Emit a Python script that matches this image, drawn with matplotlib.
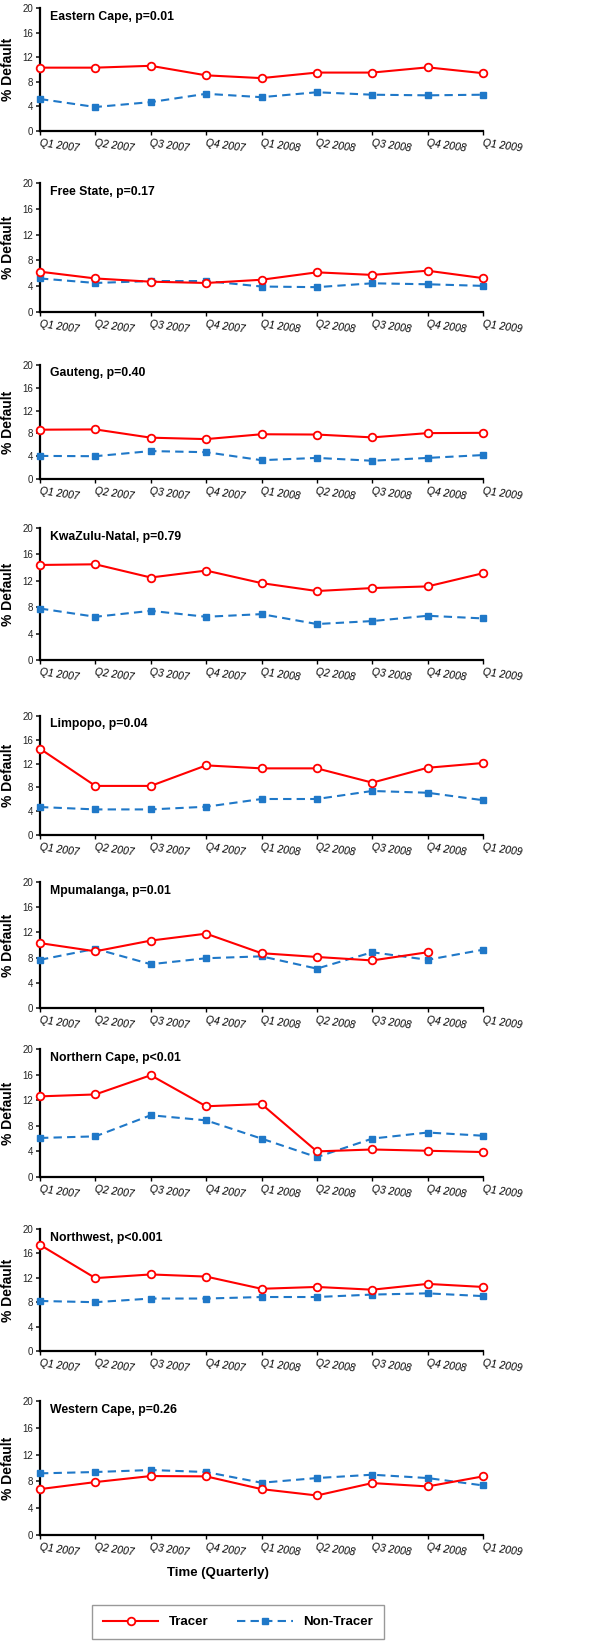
#!/usr/bin/env python3
"""
Quarterly default rates, tracer vs. non-tracer patients, by province.
"""
import numpy as np
import matplotlib
matplotlib.use("Agg")
import matplotlib.pyplot as plt
from matplotlib.lines import Line2D

plt.rcParams["font.family"] = ["Liberation Sans", "DejaVu Sans"]

QUARTERS = ["Q1 2007", "Q2 2007", "Q3 2007", "Q4 2007", "Q1 2008",
            "Q2 2008", "Q3 2008", "Q4 2008", "Q1 2009"]
TITLES = ["Eastern Cape, p=0.01", "Free State, p=0.17", "Gauteng, p=0.40",
          "KwaZulu-Natal, p=0.79", "Limpopo, p=0.04", "Mpumalanga, p=0.01",
          "Northern Cape, p<0.01", "Northwest, p<0.001", "Western Cape, p=0.26"]

# % default per quarter
EC_TRACER  = [10.3, 10.3, 10.6, 9.05, 8.6, 9.5, 9.5, 10.35, 9.4]
EC_NON     = [5.2, 3.9, 4.7, 6.05, 5.5, 6.3, 5.9, 5.8, 5.9]
FS_TRACER  = [6.25, 5.2, 4.7, 4.5, 5.0, 6.15, 5.75, 6.4, 5.25]
FS_NON     = [5.2, 4.5, 4.8, 4.8, 3.95, 3.85, 4.45, 4.3, 4.05]
GP_TRACER  = [8.65, 8.7, 7.25, 7.0, 7.85, 7.8, 7.3, 8.05, 8.1]
GP_NON     = [4.05, 4.0, 4.9, 4.7, 3.3, 3.7, 3.2, 3.7, 4.2]
KZN_TRACER = [14.4, 14.5, 12.5, 13.55, 11.65, 10.45, 10.9, 11.15, 13.15]
KZN_NON    = [7.8, 6.55, 7.45, 6.55, 6.95, 5.45, 5.9, 6.7, 6.3]
LP_TRACER  = [14.5, 8.25, 8.25, 11.7, 11.2, 11.2, 8.8, 11.3, 12.1]
LP_NON     = [4.7, 4.3, 4.3, 4.75, 6.05, 6.05, 7.4, 7.1, 5.85]
MP_TRACER  = [10.3, 9.0, 10.7, 11.8, 8.7, 8.1, 7.55, 8.85, np.nan]
MP_NON     = [7.65, 9.4, 6.95, 7.9, 8.2, 6.25, 8.85, 7.65, 9.25]
NC_TRACER  = [12.6, 12.9, 15.9, 11.05, 11.4, 4.0, 4.3, 4.1, 3.9]
NC_NON     = [6.1, 6.35, 9.65, 8.85, 6.0, 3.1, 6.0, 6.95, 6.45]
NW_TRACER  = [17.4, 11.95, 12.55, 12.2, 10.2, 10.5, 10.05, 11.0, 10.5]
NW_NON     = [8.2, 8.0, 8.6, 8.6, 8.85, 8.85, 9.25, 9.45, 9.0]
WC_TRACER  = [6.85, 7.9, 8.8, 8.75, 6.85, 5.9, 7.75, 7.25, 8.75]
WC_NON     = [9.2, 9.4, 9.7, 9.4, 7.8, 8.5, 9.0, 8.5, 7.4]

TRACER = [EC_TRACER, FS_TRACER, GP_TRACER, KZN_TRACER, LP_TRACER,
          MP_TRACER, NC_TRACER, NW_TRACER, WC_TRACER]
NON_TRACER = [EC_NON, FS_NON, GP_NON, KZN_NON, LP_NON,
              MP_NON, NC_NON, NW_NON, WC_NON]

RED = "#ff0000"
BLUE = "#1f78c8"

W, H = 600, 1641
# pixel rows of the y=20 and y=0 lines of each panel
PANEL_ROWS = [(8, 131), (183, 312), (365, 479), (528, 660), (716, 835),
              (882, 1008), (1049, 1177), (1229, 1351), (1401, 1535)]
X_LEFT, X_RIGHT = 40, 483


def main():
    fig = plt.figure(figsize=(W / 100, H / 100), dpi=100)
    x = np.arange(len(QUARTERS))

    for i, (top, bot) in enumerate(PANEL_ROWS):
        ax = fig.add_axes([X_LEFT / W, 1 - bot / H,
                           (X_RIGHT - X_LEFT) / W, (bot - top) / H])
        ax.plot(x, NON_TRACER[i], ls=(0, (4, 2.5)), color=BLUE, lw=1.5,
                marker="s", ms=4.5, mfc=BLUE, mec=BLUE, clip_on=False, zorder=3)
        ax.plot(x, TRACER[i], ls="-", color=RED, lw=1.5,
                marker="o", ms=5.5, mfc="white", mec=RED, mew=1.3,
                clip_on=False, zorder=4)

        ax.set_xlim(0, len(QUARTERS) - 1)
        ax.set_ylim(0, 20)
        ax.set_yticks([0, 4, 8, 12, 16, 20])
        ax.set_xticks(x)
        ax.set_xticklabels(QUARTERS, rotation=-8, ha="left", va="top",
                           rotation_mode="anchor", fontsize=7.5, style="italic")
        ax.tick_params(axis="y", labelsize=7, length=3, width=1.2,
                       colors="#222222", pad=2)
        ax.tick_params(axis="x", length=3, width=1.0, pad=2)
        for s in ("top", "right"):
            ax.spines[s].set_visible(False)
        for s in ("left", "bottom"):
            ax.spines[s].set_linewidth(1.6)

        ax.text(0.022, 0.93, TITLES[i], transform=ax.transAxes,
                fontsize=8.8, fontweight="bold", ha="left", va="center")
        ax.text(-0.072, 0.5, "% Default", transform=ax.transAxes,
                rotation=90, ha="center", va="center",
                fontsize=10, fontweight="bold")

    fig.text(218 / W, 1 - 1573 / H, "Time (Quarterly)",
             ha="center", va="center", fontsize=9.5, fontweight="bold")

    handles = [
        Line2D([], [], color=RED, lw=1.5, marker="o", ms=5.5,
               mfc="white", mec=RED, mew=1.3),
        Line2D([], [], color=BLUE, lw=1.5, ls=(0, (4, 2.5)), marker="s",
               ms=4.5, mfc=BLUE, mec=BLUE),
    ]
    leg = fig.legend(handles, ["Tracer", "Non-Tracer"], ncol=2,
                     loc="center", bbox_to_anchor=(238 / W, 1 - 1622 / H),
                     frameon=True, fancybox=False, handlelength=4.2,
                     columnspacing=2.2, borderpad=0.8,
                     prop={"weight": "bold", "size": 9.5})
    leg.get_frame().set_edgecolor("#808080")
    leg.get_frame().set_linewidth(1.0)

    fig.savefig("out.png", dpi=100)
    plt.close(fig)


if __name__ == "__main__":
    main()
